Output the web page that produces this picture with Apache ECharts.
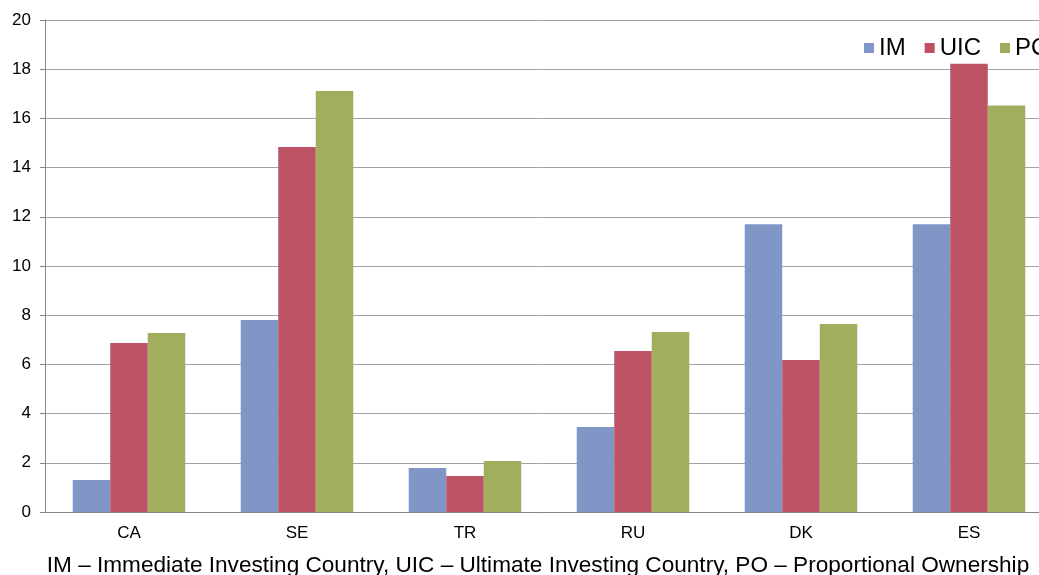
<!DOCTYPE html>
<html>
<head>
<meta charset="utf-8">
<script src="https://cdn.jsdelivr.net/npm/echarts@6/dist/echarts.min.js"></script>
<style>
  html, body { margin: 0; padding: 0; background: #fff; }
  #chart { width: 1039px; height: 575px; }
</style>
</head>
<body>
<div id="chart"></div>
<script>
const countries = ['CA', 'SE', 'TR', 'RU', 'DK', 'ES']
const imValues = [1.3, 7.8, 1.79, 3.46, 11.7, 11.7]
const uicValues = [6.87, 14.84, 1.46, 6.54, 6.18, 18.22]
const poValues = [7.28, 17.11, 2.07, 7.32, 7.64, 16.52]
const yTicks = [0, 2, 4, 6, 8, 10, 12, 14, 16, 18, 20]

const font = 'Liberation Sans, Arial, sans-serif'
const chart = echarts.init(document.getElementById('chart'))

chart.setOption({
  animation: false,
  textStyle: { fontFamily: font },
  // the plot runs past the right edge of the picture, as in the original
  grid: { left: 45, top: 20, height: 492, width: 1008, outerBoundsMode: 'none', containLabel: false },
  legend: {
    left: 859,
    top: 31,
    width: 400,
    icon: 'rect',
    itemWidth: 10,
    itemHeight: 10,
    itemGap: 19,
    textStyle: { fontSize: 24, color: '#000', fontFamily: font },
    data: ['IM', 'UIC', 'PO']
  },
  title: {
    text: 'IM – Immediate Investing Country, UIC – Ultimate Investing Country, PO – Proportional Ownership',
    left: 533,
    textAlign: 'center',
    top: 549,
    textStyle: { fontSize: 22.6, fontWeight: 'normal', color: '#000', fontFamily: font }
  },
  xAxis: {
    type: 'category',
    data: countries,
    axisLine: { lineStyle: { color: '#868686' } },
    axisTick: { length: 5, lineStyle: { color: '#868686' } },
    axisLabel: { fontSize: 17, color: '#000', margin: 13 }
  },
  yAxis: {
    type: 'value',
    min: yTicks[0],
    max: yTicks[yTicks.length - 1],
    interval: 2,
    axisLine: { show: true, lineStyle: { color: '#868686' } },
    axisTick: { show: true, length: 5, lineStyle: { color: '#868686' } },
    axisLabel: { fontSize: 17, color: '#000', margin: 14 },
    splitLine: { lineStyle: { color: '#a3a3a3' } }
  },
  series: [
    { name: 'IM', type: 'bar', data: imValues, itemStyle: { color: '#7f96c6' }, barGap: '0%', barCategoryGap: '33%' },
    { name: 'UIC', type: 'bar', data: uicValues, itemStyle: { color: '#bc5263' } },
    { name: 'PO', type: 'bar', data: poValues, itemStyle: { color: '#a0ae5e' } }
  ]
})
</script>
</body>
</html>
